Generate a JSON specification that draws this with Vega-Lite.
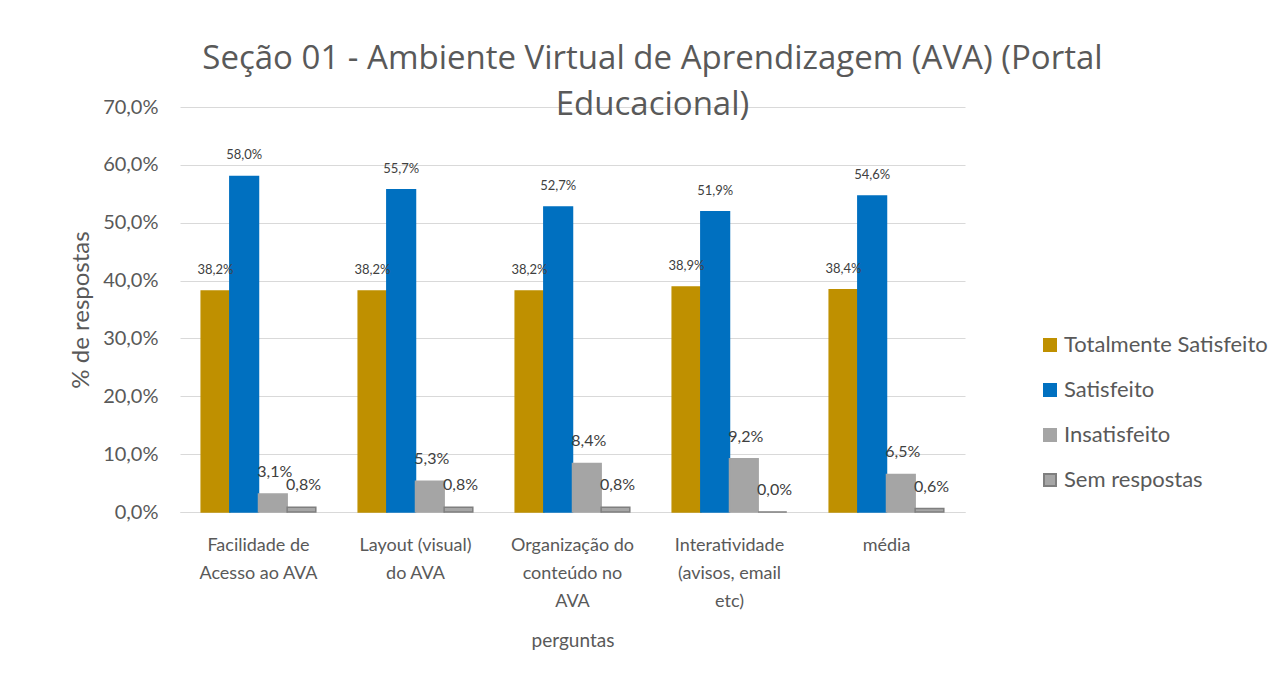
{
  "$schema": "https://vega.github.io/schema/vega-lite/v6.json",
  "width": 785,
  "height": 405,
  "autosize": {"type": "none"},
  "padding": {"left": 180, "top": 107, "right": 317, "bottom": 174},
  "background": "white",
  "config": {
    "locale": {"number": {"decimal": ",", "thousands": ".", "grouping": [3], "currency": ["R$", ""]}},
    "font": "Lato",
    "view": {"stroke": null}
  },
  "title": {
    "text": ["Seção 01 - Ambiente Virtual de Aprendizagem (AVA) (Portal", "Educacional)"],
    "font": "Open Sans",
    "fontSize": 33,
    "fontWeight": "normal",
    "color": "#595959",
    "anchor": "middle",
    "frame": "group",
    "dx": 80,
    "lineHeight": 46,
    "offset": -25
  },
  "data": {
    "values": [
      {"pergunta": "Facilidade de Acesso ao AVA", "serie": "Totalmente Satisfeito", "valor": 0.382},
      {"pergunta": "Facilidade de Acesso ao AVA", "serie": "Satisfeito", "valor": 0.580},
      {"pergunta": "Facilidade de Acesso ao AVA", "serie": "Insatisfeito", "valor": 0.031},
      {"pergunta": "Facilidade de Acesso ao AVA", "serie": "Sem respostas", "valor": 0.008},
      {"pergunta": "Layout (visual) do AVA", "serie": "Totalmente Satisfeito", "valor": 0.382},
      {"pergunta": "Layout (visual) do AVA", "serie": "Satisfeito", "valor": 0.557},
      {"pergunta": "Layout (visual) do AVA", "serie": "Insatisfeito", "valor": 0.053},
      {"pergunta": "Layout (visual) do AVA", "serie": "Sem respostas", "valor": 0.008},
      {"pergunta": "Organização do conteúdo no AVA", "serie": "Totalmente Satisfeito", "valor": 0.382},
      {"pergunta": "Organização do conteúdo no AVA", "serie": "Satisfeito", "valor": 0.527},
      {"pergunta": "Organização do conteúdo no AVA", "serie": "Insatisfeito", "valor": 0.084},
      {"pergunta": "Organização do conteúdo no AVA", "serie": "Sem respostas", "valor": 0.008},
      {"pergunta": "Interatividade (avisos, email etc)", "serie": "Totalmente Satisfeito", "valor": 0.389},
      {"pergunta": "Interatividade (avisos, email etc)", "serie": "Satisfeito", "valor": 0.519},
      {"pergunta": "Interatividade (avisos, email etc)", "serie": "Insatisfeito", "valor": 0.092},
      {"pergunta": "Interatividade (avisos, email etc)", "serie": "Sem respostas", "valor": 0.000},
      {"pergunta": "média", "serie": "Totalmente Satisfeito", "valor": 0.384},
      {"pergunta": "média", "serie": "Satisfeito", "valor": 0.546},
      {"pergunta": "média", "serie": "Insatisfeito", "valor": 0.065},
      {"pergunta": "média", "serie": "Sem respostas", "valor": 0.006}
    ]
  },
  "encoding": {
    "x": {
      "field": "pergunta",
      "type": "nominal",
      "sort": null,
      "scale": {"paddingInner": 0.27, "paddingOuter": 0.135},
      "axis": {
        "title": "perguntas",
        "titleFontSize": 19,
        "titleFontWeight": "normal",
        "titleColor": "#595959",
        "titlePadding": 21,
        "labelAngle": 0,
        "labelFontSize": 18,
        "labelColor": "#595959",
        "labelLineHeight": 28,
        "labelPadding": 24,
        "labelLimit": 200,
        "ticks": false,
        "domainColor": "#D9D9D9",
        "domainWidth": 1,
        "labelExpr": "datum.value == 'Facilidade de Acesso ao AVA' ? ['Facilidade de', 'Acesso ao AVA'] : datum.value == 'Layout (visual) do AVA' ? ['Layout (visual)', 'do AVA'] : datum.value == 'Organização do conteúdo no AVA' ? ['Organização do', 'conteúdo no', 'AVA'] : datum.value == 'Interatividade (avisos, email etc)' ? ['Interatividade', '(avisos, email', 'etc)'] : datum.value"
      }
    },
    "xOffset": {
      "field": "serie",
      "type": "nominal",
      "scale": {"domain": ["Totalmente Satisfeito", "Satisfeito", "Insatisfeito", "Sem respostas"], "paddingInner": 0, "paddingOuter": 0}
    },
    "y": {
      "field": "valor",
      "type": "quantitative",
      "scale": {"domain": [0, 0.7], "nice": false},
      "axis": {
        "title": "% de respostas",
        "titleFontSize": 24,
        "titleFontWeight": "normal",
        "titleColor": "#595959",
        "titlePadding": 9,
        "format": ".1%",
        "values": [0, 0.1, 0.2, 0.3, 0.4, 0.5, 0.6, 0.7],
        "labelOverlap": false,
        "labelFontSize": 20,
        "labelColor": "#595959",
        "labelPadding": 22,
        "ticks": false,
        "domain": false,
        "gridColor": "#D9D9D9",
        "gridWidth": 1
      }
    }
  },
  "layer": [
    {
      "mark": {"type": "bar", "strokeWidth": 1.5},
      "encoding": {
        "fill": {
          "field": "serie",
          "type": "nominal",
          "scale": {"domain": ["Totalmente Satisfeito", "Satisfeito", "Insatisfeito", "Sem respostas"], "range": ["#BF9000", "#0070C0", "#A5A5A5", "#A6A6A6"]},
          "legend": {
            "title": null,
            "orient": "none",
            "legendX": 859,
            "legendY": 227,
            "labelFontSize": 22,
            "labelColor": "#595959",
            "labelLimit": 300,
            "labelOffset": 3,
            "symbolType": "square",
            "symbolSize": 144,
            "symbolStrokeWidth": 2,
            "rowPadding": 23
          }
        },
        "stroke": {
          "field": "serie",
          "type": "nominal",
          "scale": {"domain": ["Totalmente Satisfeito", "Satisfeito", "Insatisfeito", "Sem respostas"], "range": ["#BF9000", "#0070C0", "#A5A5A5", "#7F7F7F"]},
          "legend": {
            "title": null,
            "orient": "none",
            "legendX": 859,
            "legendY": 227,
            "labelFontSize": 22,
            "labelColor": "#595959",
            "labelLimit": 300,
            "labelOffset": 3,
            "symbolType": "square",
            "symbolSize": 144,
            "symbolStrokeWidth": 2,
            "rowPadding": 23
          }
        }
      }
    },
    {
      "transform": [{"filter": {"field": "serie", "oneOf": ["Totalmente Satisfeito", "Satisfeito"]}}],
      "mark": {"type": "text", "baseline": "middle", "dy": -21, "fontSize": 13, "color": "#404040"},
      "encoding": {
        "text": {"field": "valor", "type": "quantitative", "format": ".1%"}
      }
    },
    {
      "transform": [{"filter": {"field": "serie", "oneOf": ["Insatisfeito", "Sem respostas"]}}],
      "mark": {"type": "text", "baseline": "middle", "dy": -22, "dx": 2, "fontSize": 16, "color": "#404040"},
      "encoding": {
        "text": {"field": "valor", "type": "quantitative", "format": ".1%"}
      }
    }
  ]
}
